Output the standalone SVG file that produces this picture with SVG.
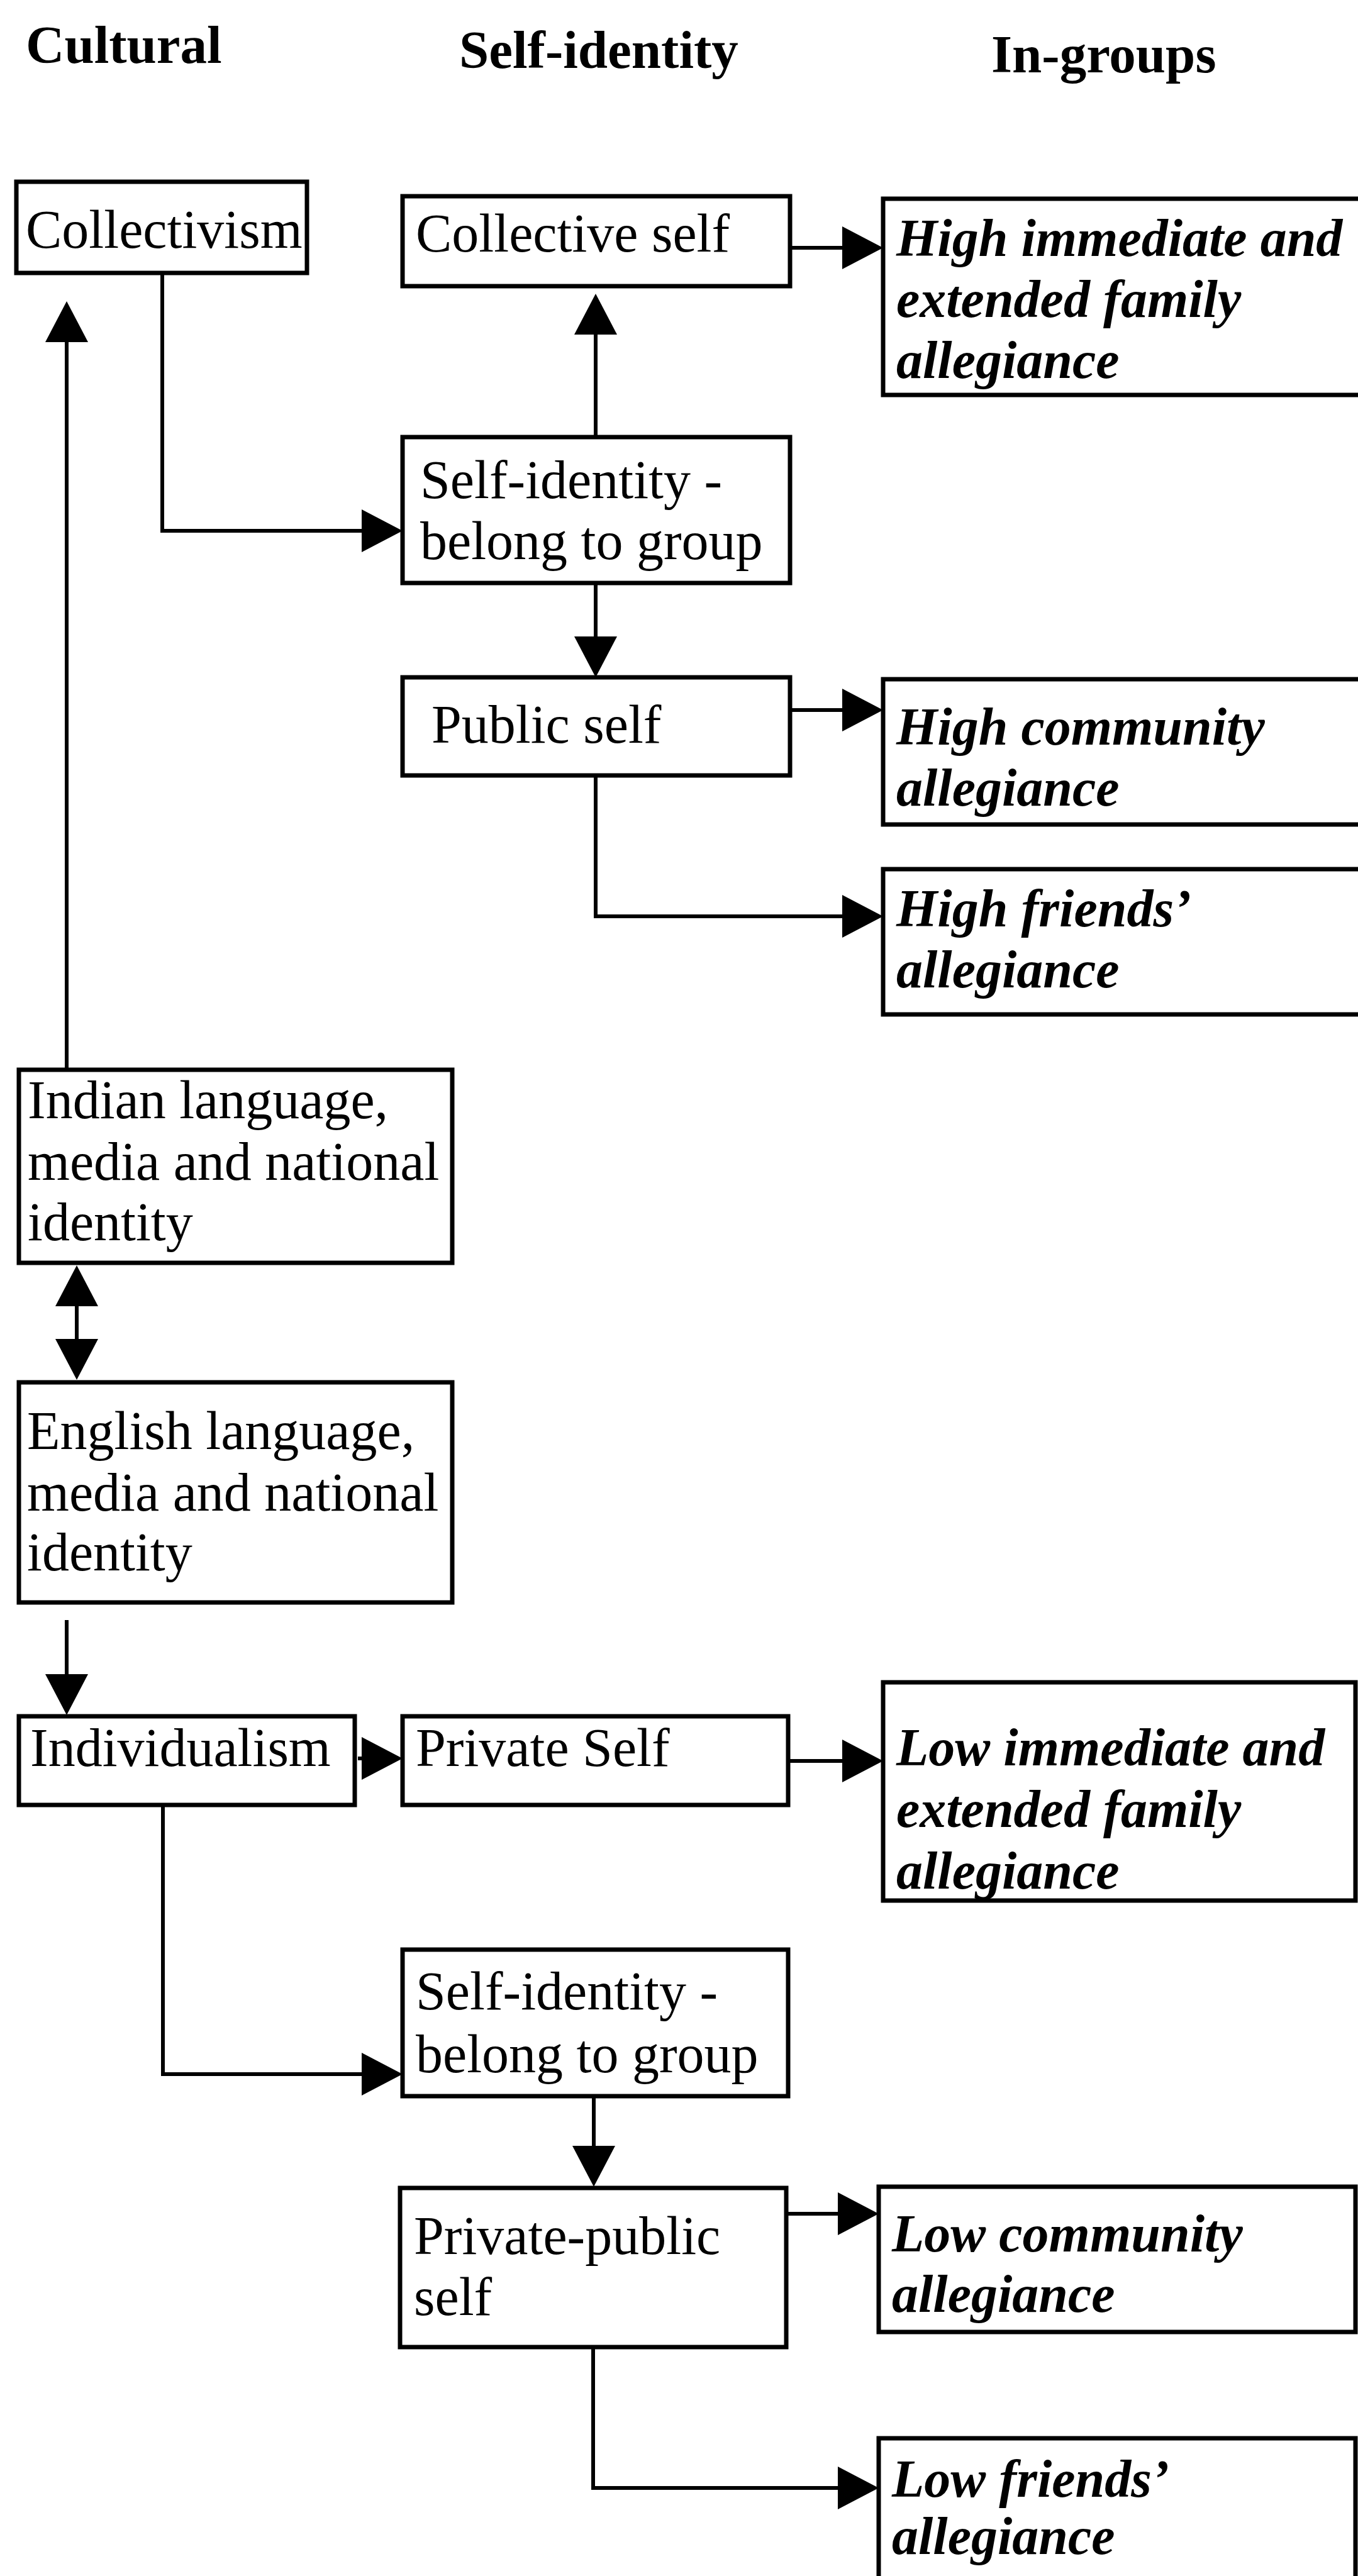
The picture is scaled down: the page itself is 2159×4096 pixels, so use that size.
<svg xmlns="http://www.w3.org/2000/svg" width="2159" height="4096" viewBox="0 0 2159 4096">
  <style>
    .box { fill: #ffffff; stroke: #000000; stroke-width: 7; }
    .txt { font-family: "Liberation Serif", "Times New Roman", serif; font-size: 86px; fill: #000000; }
    .head { font-family: "Liberation Serif", "Times New Roman", serif; font-size: 85px; font-weight: bold; fill: #000000; }
    .grp { font-family: "Liberation Serif", "Times New Roman", serif; font-size: 84px; font-weight: bold; font-style: italic; fill: #000000; }
    .conn { fill: none; stroke: #000000; stroke-width: 6; marker-end: url(#arrow); }
  </style>
  <defs>
    <marker id="arrow" markerUnits="userSpaceOnUse" markerWidth="65" markerHeight="68" refX="0" refY="34" orient="auto" overflow="visible">
      <path d="M0,0 L65,34 L0,68 Z" fill="#000000"/>
    </marker>
    <marker id="arrowStart" markerUnits="userSpaceOnUse" markerWidth="65" markerHeight="68" refX="0" refY="34" orient="auto-start-reverse" overflow="visible">
      <path d="M0,0 L65,34 L0,68 Z" fill="#000000"/>
    </marker>
  </defs>
  <rect width="2159" height="4096" fill="#ffffff"/>

  <!-- column headings -->
  <g id="headings">
    <text class="head" x="41" y="100">Cultural</text>
    <text class="head" x="730" y="108">Self-identity</text>
    <text class="head" x="1576" y="115">In-groups</text>
  </g>

  <!-- connectors -->
  <g id="connectors">
    <path class="conn" d="M1256,394 H1339"/>
    <path class="conn" d="M258,433 V844 H575"/>
    <path class="conn" d="M947,695 V532"/>
    <path class="conn" d="M947,927 V1012"/>
    <path class="conn" d="M1256,1129 H1339"/>
    <path class="conn" d="M947,1233 V1457 H1339"/>
    <path class="conn" d="M106,1701 V544"/>
    <path class="conn" d="M122,2077 V2129" style="marker-start: url(#arrowStart);"/>
    <path class="conn" d="M106,2576 V2662"/>
    <path class="conn" d="M569,2796 H575"/>
    <path class="conn" d="M1253,2800 H1339"/>
    <path class="conn" d="M259,2870 V3298 H575"/>
    <path class="conn" d="M944,3333 V3412"/>
    <path class="conn" d="M1250,3520 H1332"/>
    <path class="conn" d="M943,3732 V3956 H1332"/>
  </g>

  <!-- upper (collectivist) branch -->
  <g id="collectivism">
    <rect class="box" x="26" y="289" width="462" height="145"/>
    <text class="txt" x="41" y="394">Collectivism</text>
  </g>
  <g id="collective-self">
    <rect class="box" x="640" y="312" width="616" height="143"/>
    <text class="txt" x="661" y="400">Collective self</text>
  </g>
  <g id="high-family">
    <rect class="box" x="1404" y="316" width="780" height="312"/>
    <text class="grp" x="1425" y="407">High immediate and</text>
    <text class="grp" x="1425" y="504">extended family</text>
    <text class="grp" x="1425" y="601">allegiance</text>
  </g>
  <g id="self-identity-1">
    <rect class="box" x="640" y="695" width="616" height="232"/>
    <text class="txt" x="668" y="792">Self-identity -</text>
    <text class="txt" x="668" y="889">belong to group</text>
  </g>
  <g id="public-self">
    <rect class="box" x="640" y="1077" width="616" height="156"/>
    <text class="txt" x="686" y="1181">Public self</text>
  </g>
  <g id="high-community">
    <rect class="box" x="1404" y="1080" width="780" height="231"/>
    <text class="grp" x="1425" y="1184">High community</text>
    <text class="grp" x="1425" y="1281">allegiance</text>
  </g>
  <g id="high-friends">
    <rect class="box" x="1404" y="1382" width="780" height="231"/>
    <text class="grp" x="1425" y="1473">High friends’</text>
    <text class="grp" x="1425" y="1570">allegiance</text>
  </g>

  <!-- language and media -->
  <g id="indian-language">
    <rect class="box" x="30" y="1701" width="689" height="307"/>
    <text class="txt" x="44" y="1778">Indian language,</text>
    <text class="txt" x="44" y="1876">media and national</text>
    <text class="txt" x="44" y="1972">identity</text>
  </g>
  <g id="english-language">
    <rect class="box" x="30" y="2198" width="689" height="350"/>
    <text class="txt" x="43" y="2304">English language,</text>
    <text class="txt" x="43" y="2402">media and national</text>
    <text class="txt" x="43" y="2497">identity</text>
  </g>

  <!-- lower (individualist) branch -->
  <g id="individualism">
    <rect class="box" x="30" y="2729" width="534" height="141"/>
    <text class="txt" x="48" y="2808">Individualism</text>
  </g>
  <g id="private-self">
    <rect class="box" x="640" y="2729" width="613" height="141"/>
    <text class="txt" x="661" y="2808">Private Self</text>
  </g>
  <g id="low-family">
    <rect class="box" x="1404" y="2675" width="751" height="347"/>
    <text class="grp" x="1425" y="2807">Low immediate and</text>
    <text class="grp" x="1425" y="2905">extended family</text>
    <text class="grp" x="1425" y="3003">allegiance</text>
  </g>
  <g id="self-identity-2">
    <rect class="box" x="640" y="3100" width="613" height="233"/>
    <text class="txt" x="661" y="3195">Self-identity -</text>
    <text class="txt" x="661" y="3295">belong to group</text>
  </g>
  <g id="private-public-self">
    <rect class="box" x="636" y="3479" width="614" height="253"/>
    <text class="txt" x="658" y="3584">Private-public</text>
    <text class="txt" x="658" y="3681">self</text>
  </g>
  <g id="low-community">
    <rect class="box" x="1397" y="3477" width="758" height="231"/>
    <text class="grp" x="1418" y="3580">Low community</text>
    <text class="grp" x="1418" y="3676">allegiance</text>
  </g>
  <g id="low-friends">
    <rect class="box" x="1397" y="3877" width="758" height="240"/>
    <text class="grp" x="1418" y="3970">Low friends’</text>
    <text class="grp" x="1418" y="4061">allegiance</text>
  </g>
</svg>
